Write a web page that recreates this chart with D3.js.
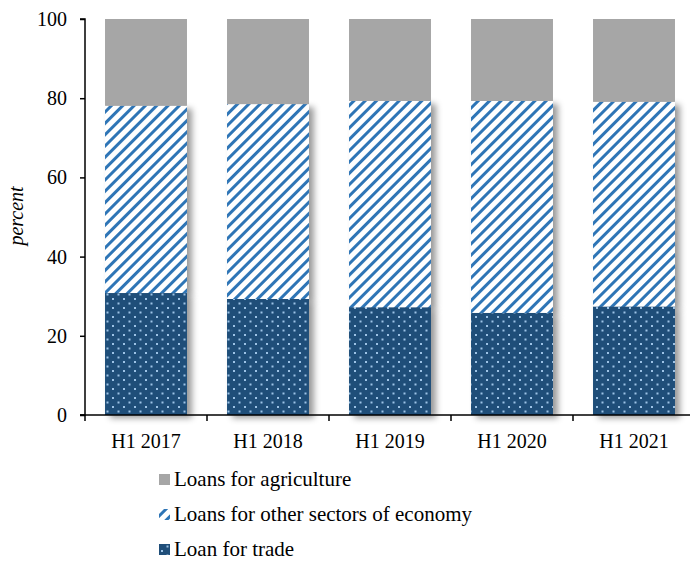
<!DOCTYPE html>
<html><head><meta charset="utf-8">
<script src="https://cdn.jsdelivr.net/npm/d3@7"></script>
<style>body{margin:0;background:#fff}svg{display:block}</style>
</head><body><svg id="c" width="690" height="561"></svg>
<script>
const categories = ["H1 2017","H1 2018","H1 2019","H1 2020","H1 2021"];
const trade = [30.8, 29.3, 27.2, 25.8, 27.4];
const otherSectors = [47.3, 49.2, 52.1, 53.5, 51.7];
const agriculture = [21.9, 21.5, 20.7, 20.7, 20.9];
const yTicks = [0,20,40,60,80,100];
const seriesNames = ["Loan for trade","Loans for other sectors of economy","Loans for agriculture"];
const FONT = "Liberation Serif";

const svg = d3.select("#c");
const defs = svg.append("defs");
const pd = defs.append("pattern").attr("id","dots").attr("patternUnits","userSpaceOnUse")
  .attr("width",11).attr("height",9);
pd.append("rect").attr("width",11).attr("height",9).attr("fill","#1f4e79");
pd.append("rect").attr("x",2).attr("y",1).attr("width",2).attr("height",2).attr("fill","#9dc3e6");
pd.append("rect").attr("x",7.5).attr("y",5.5).attr("width",2).attr("height",2).attr("fill","#9dc3e6");
const ph = defs.append("pattern").attr("id","hatch").attr("patternUnits","userSpaceOnUse")
  .attr("width",8).attr("height",8).attr("patternTransform","rotate(45)");
ph.append("rect").attr("width",8).attr("height",8).attr("fill","#fff");
ph.append("rect").attr("x",0).attr("width",3).attr("height",8).attr("fill","#2e75b6");
const f = defs.append("filter").attr("id","sh").attr("x","-20%").attr("y","-20%").attr("width","150%").attr("height","150%");
f.append("feDropShadow").attr("dx",5).attr("dy",3).attr("stdDeviation",3).attr("flood-color","#000").attr("flood-opacity",0.4);

const x = d3.scaleBand().domain(categories).range([85,695]).paddingInner(0.33).paddingOuter(0.165);
const y = d3.scaleLinear().domain([0,100]).range([415,19]);

const data = categories.map((c,i)=>({cat:c, trade:trade[i], other:otherSectors[i], agri:agriculture[i]}));
const stack = d3.stack().keys(["trade","other","agri"])(data);
const fills = ["url(#dots)","url(#hatch)","#a6a6a6"];

const gs = svg.append("g");
stack.forEach((s,k)=>{
  const g = gs.append("g").attr("filter", k<2 ? "url(#sh)" : null);
  g.selectAll("rect").data(s).join("rect")
    .attr("x",d=>x(d.data.cat)).attr("width",x.bandwidth())
    .attr("y",d=>y(d[1])).attr("height",d=>y(d[0])-y(d[1]))
    .attr("fill",fills[k]);
});
stack.forEach((s,k)=>{
  gs.append("g").selectAll("rect").data(s).join("rect")
    .attr("x",d=>x(d.data.cat)).attr("width",x.bandwidth())
    .attr("y",d=>y(d[1])).attr("height",d=>y(d[0])-y(d[1]))
    .attr("fill",fills[k]);
});

const ya = svg.append("g").attr("transform","translate(85,0)")
  .call(d3.axisLeft(y).tickValues(yTicks).tickSize(5).tickPadding(13));
ya.selectAll("text").attr("font-size",20).style("font-family",FONT).attr("fill","#000");
ya.select(".domain").attr("stroke","#000").attr("stroke-width",1.5).attr("d","M-5,19H0V415H-5");
ya.selectAll(".tick line").attr("stroke-width",1.5);

const xa = svg.append("g").attr("transform","translate(0,415)");
xa.append("line").attr("x1",80).attr("x2",695).attr("y1",0).attr("y2",0).attr("stroke","#000").attr("stroke-width",1.5);
const bounds = categories.map(c=>x(c) - (x.step()-x.bandwidth())/2);
xa.selectAll(".tb").data(bounds.concat([bounds[bounds.length-1]+x.step()])).join("line")
  .attr("x1",d=>d).attr("x2",d=>d).attr("y1",0).attr("y2",6).attr("stroke","#000").attr("stroke-width",1.5);
xa.selectAll(".xl").data(categories).join("text")
  .attr("x",d=>x(d)+x.bandwidth()/2).attr("y",33).attr("text-anchor","middle").attr("font-size",20)
  .style("font-family",FONT).text(d=>d);

svg.append("text").attr("transform","translate(23,216) rotate(-90)").attr("text-anchor","middle")
  .attr("font-size",20).attr("font-style","italic").style("font-family",FONT).text("percent");

const legendOrder = [2,1,0];
const lg = svg.selectAll(".lg").data(legendOrder).join("g").attr("transform",(d,i)=>`translate(159,${479+i*35})`);
lg.append("rect").attr("x",0).attr("y",-5).attr("width",11).attr("height",11).attr("fill",d=>fills[d]);
lg.append("text").attr("x",15).attr("y",7).attr("font-size",21).style("font-family",FONT).text(d=>seriesNames[d]);
</script></body></html>
